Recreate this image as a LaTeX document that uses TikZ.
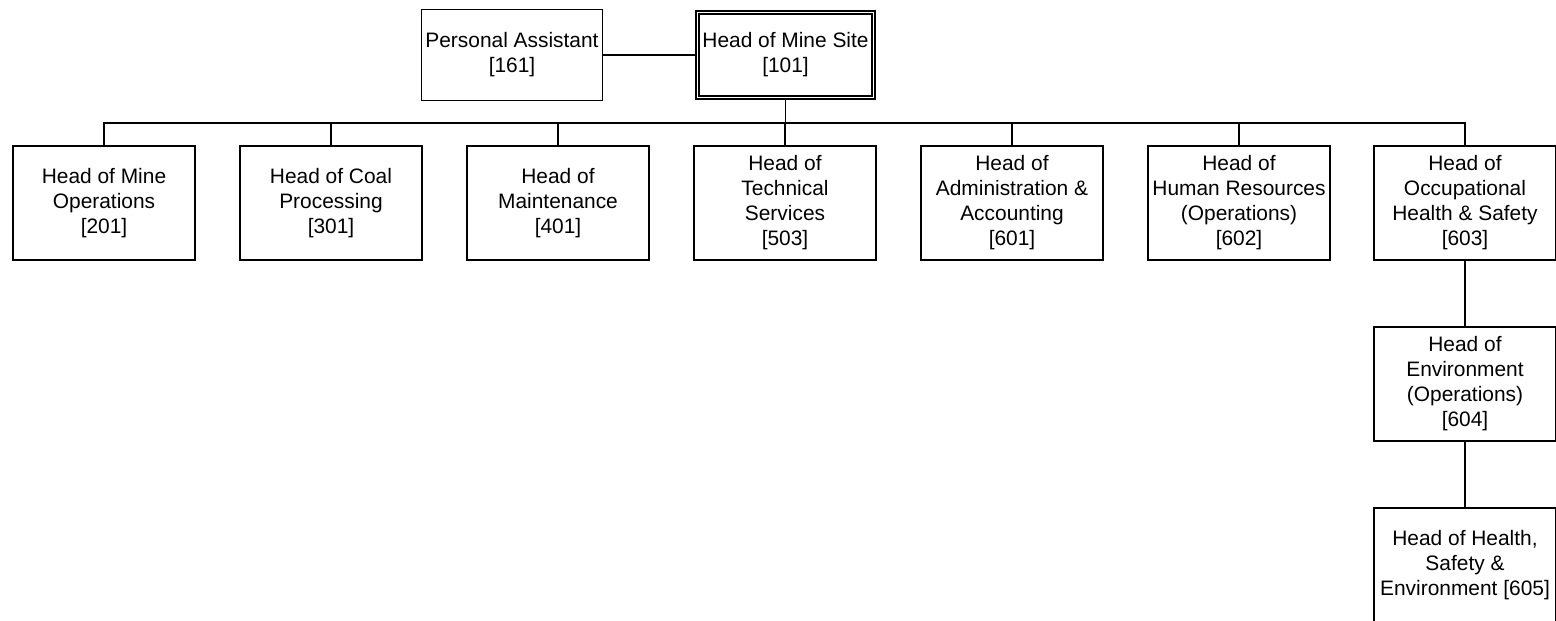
\documentclass[tikz,border=0pt]{standalone}
\usepackage{fontspec}
\setmainfont{Liberation Sans}
\usetikzlibrary{positioning}

\tikzset{
  post/.style={draw, line width=1.1pt, align=center, inner sep=0pt,
    minimum width=3.64cm, minimum height=2.28cm,
    font=\fontsize{11.9}{14.2}\selectfont},
  toppost/.style={post, minimum height=1.82cm, minimum width=3.62cm},
  headpost/.style={post, double, line width=0.9pt, double distance=0.9pt,
    minimum width=3.52cm, minimum height=1.7cm},
  link/.style={line width=1.1pt}
}

\begin{document}
\begin{tikzpicture}[x=0.02cm, y=-0.02cm]
  \useasboundingbox (0,0) rectangle (1556,620);

  % top row
  \node[headpost] (head) at (785.5,55) {Head of Mine Site\\{[101]}};
  \node[toppost] (pa) at (512,55) {Personal Assistant\\{[161]}};
  \draw[link] (pa.east) -- (head.west);

  % second row
  \node[post] (h201) at (104,203) {Head of Mine\\Operations\\{[201]}};
  \node[post] (h301) at (331,203) {Head of Coal\\Processing\\{[301]}};
  \node[post] (h401) at (558,203) {Head of\\Maintenance\\{[401]}};
  \node[post] (h503) at (785,203) {Head of\\Technical\\Services\\{[503]}};
  \node[post] (h601) at (1012,203) {Head of\\Administration \&\\Accounting\\{[601]}};
  \node[post] (h602) at (1239,203) {Head of\\Human Resources\\(Operations)\\{[602]}};
  \node[post] (h603) at (1465,203) {Head of\\Occupational\\Health \& Safety\\{[603]}};

  \coordinate (bus) at (0,123);
  \foreach \n in {h201,h301,h401,h503,h601,h602,h603}
    \draw[link] (head.south) -- (head.south |- bus) -| (\n.north);

  % right column
  \node[post] (h604) at (1465,384) {Head of\\Environment\\(Operations)\\{[604]}};
  \node[post] (h605) at (1465,565) {Head of Health,\\Safety \&\\Environment [605]};
  \draw[link] (h603.south) -- (h604.north);
  \draw[link] (h604.south) -- (h605.north);

\end{tikzpicture}
\end{document}
